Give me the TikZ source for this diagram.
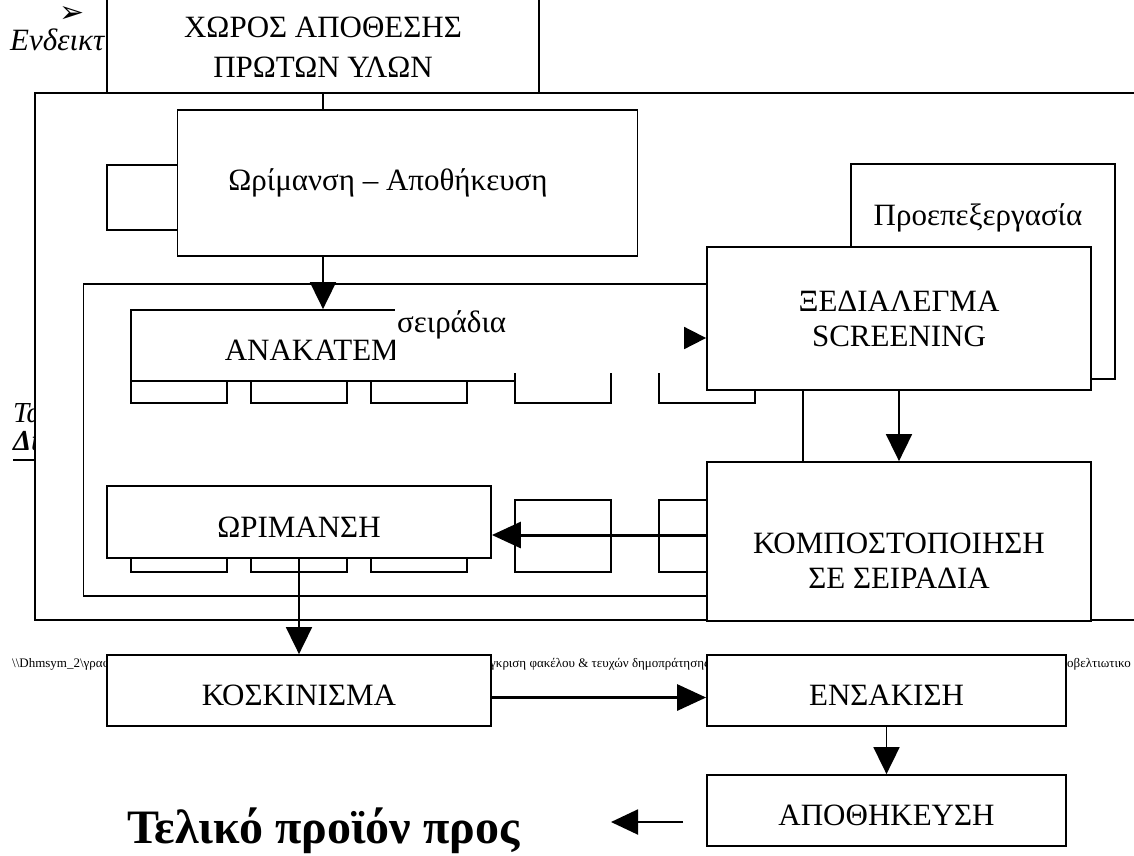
\documentclass[tikz,border=0pt]{standalone}
\usepackage{fontspec}
\setmainfont{Liberation Serif}
\newfontfamily\djv{DejaVu Sans}
\usetikzlibrary{arrows.meta}
\begin{document}
\begin{tikzpicture}[x=1pt,y=-1pt,
  frame/.style={draw, line width=1.8pt, fill=white},
  box/.style={draw, line width=1.8pt, fill=white, inner sep=0pt, align=center,
    font=\fontsize{31}{35}\selectfont},
  low/.style={text height=30pt, text depth=0pt},
  txt/.style={inner sep=0pt, align=center, font=\fontsize{31}{35}\selectfont},
  smallbox/.style={draw, line width=1.8pt, fill=white, inner sep=0pt},
  plain/.style={line width=1.8pt},
  arr/.style={line width=1.8pt, -{Triangle[length=27pt,width=26pt]}},
  arrthick/.style={line width=3pt, -{Triangle[length=29pt,width=26pt]}},
  arrsm/.style={line width=1.8pt, -{Triangle[length=22pt,width=22pt]}},
  foot/.style={anchor=base west, inner sep=0pt, font=\fontsize{13}{13}\selectfont}]
\useasboundingbox (0,0) rectangle (1134,855);
\clip (0,0) rectangle (1134,855);

% background texts
\node[font=\djv\fontsize{30}{30}\selectfont, inner sep=0pt, anchor=base, text depth=0pt, text height=18pt] (bullet) at (72,22) {➢};
\node[anchor=base west, inner sep=0pt, font=\itshape\fontsize{31}{31}\selectfont] (endeikt) at (10,50) {Ενδεικτικό};
\node[anchor=base west, inner sep=0pt, font=\itshape\fontsize{29}{29}\selectfont] (ta) at (13,422) {Τα};
\node[anchor=base west, inner sep=0pt, font=\bfseries\itshape\fontsize{29}{29}\selectfont] (di) at (13,450) {Δι};
\draw[line width=2pt] ([yshift=-10pt]di.base west) -- ([yshift=-10pt]di.base east);
\node[foot] (f1) at (12,667) {\textbackslash\textbackslash Dhmsym\_2\textbackslash γραφεία};
\node[foot] (f2) at (490,667) {γκριση φακέλου \& τευχών δημοπράτησης};
\node[foot] (f3) at (1067,667) {οβελτιωτικο};

% outer frame
\path[frame] (35,93) rectangle (1150,620);

% top box
\node[box, minimum width=432pt, minimum height=98pt] (store) at (323,44) {};
\node[txt] (storet) at (323,47) {ΧΩΡΟΣ ΑΠΟΘΕΣΗΣ\\[5pt]ΠΡΩΤΩΝ ΥΛΩΝ};

% small box left of Ωρίμανση
\path[frame] (107,165) rectangle (178,230);
\node[box, minimum width=460pt, minimum height=146pt] (orim) at (407.5,183) {};
\node[txt] (orimt) at (388,183) {Ωρίμανση – Αποθήκευση};
\draw[plain] (store.south) -- (store.south |- orim.north);

% inner frame
\draw[line width=1.8pt] (83.5,284) rectangle (803,596);

% row 1
\node[box, low, minimum width=384pt, minimum height=71pt] (anak) at (323,345.5) {ΑΝΑΚΑΤΕΜΑ};
\node[smallbox, minimum width=96pt, minimum height=22pt] (r1a) at (179,392) {};
\node[smallbox, minimum width=96pt, minimum height=22pt] (r1b) at (299,392) {};
\node[smallbox, minimum width=96pt, minimum height=22pt] (r1c) at (419,392) {};
\node[smallbox, minimum width=96pt, minimum height=38pt] (r1d) at (563,384) {};
\node[smallbox, minimum width=96pt, minimum height=38pt] (r1e) at (707,384) {};
\fill[white] (395,295) rectangle (712,373);
\node[anchor=base west, inner sep=0pt, font=\fontsize{31}{31}\selectfont] (seir) at (397,332) {σειράδια};

% row 2
\node[smallbox, minimum width=96pt, minimum height=14pt] (r2a) at (179,565) {};
\node[smallbox, minimum width=96pt, minimum height=14pt] (r2b) at (299,565) {};
\node[smallbox, minimum width=96pt, minimum height=14pt] (r2c) at (419,565) {};
\node[smallbox, minimum width=96pt, minimum height=72pt] (r2d) at (563,536) {};
\node[smallbox, minimum width=96pt, minimum height=72pt] (r2e) at (707,536) {};
\node[box, low, minimum width=384pt, minimum height=72pt] (orim2) at (299,522) {ΩΡΙΜΑΝΣΗ};

% right column
\node[box, minimum width=264pt, minimum height=215pt] (proep) at (983,271.5) {};
\node[txt] (proept) at (978,218) {Προεπεξεργασία};
\node[box, minimum width=384pt, minimum height=143pt] (xed) at (899,318.5) {ΞΕΔΙΑΛΕΓΜΑ\\SCREENING};
\node[box, minimum width=384pt, minimum height=159pt] (komp) at (899,541.5) {};
\node[txt] (kompt) at (899,561) {ΚΟΜΠΟΣΤΟΠΟΙΗΣΗ\\ΣΕ ΣΕΙΡΑΔΙΑ};

% bottom
\node[box, low, minimum width=384pt, minimum height=71pt] (kosk) at (299,690.5) {ΚΟΣΚΙΝΙΣΜΑ};
\node[box, low, minimum width=359pt, minimum height=71pt] (ensak) at (886.5,690.5) {ΕΝΣΑΚΙΣΗ};
\node[box, low, minimum width=359pt, minimum height=71pt] (apoth) at (886.5,810.5) {ΑΠΟΘΗΚΕΥΣΗ};
\node[anchor=base west, inner sep=0pt, font=\bfseries\fontsize{48}{48}\selectfont] (final) at (127,843) {Τελικό προϊόν προς};

% connectors
\draw[arr] (orim.south -| anak.north) -- (anak.north);
\coordinate (sa) at (685,338);
\draw[arrsm] (sa) -- (xed.west |- sa);
\draw[arr] (xed.south) -- (komp.north);
\coordinate (o2e) at ([yshift=-13pt]orim2.east);
\draw[arrthick] (komp.west |- o2e) -- (o2e);
\draw[arr] (orim2.south) -- (kosk.north);
\coordinate (ke) at ([yshift=-7pt]kosk.east);
\draw[arrthick] (ke) -- (ensak.west |- ke);
\draw[arr] (ensak.south) -- (apoth.north);
\coordinate (fa) at (683,822);
\coordinate (fb) at (611,822);
\draw[line width=2pt, -{Triangle[length=27pt,width=25pt]}] (fa) -- (fb);
\end{tikzpicture}
\end{document}
